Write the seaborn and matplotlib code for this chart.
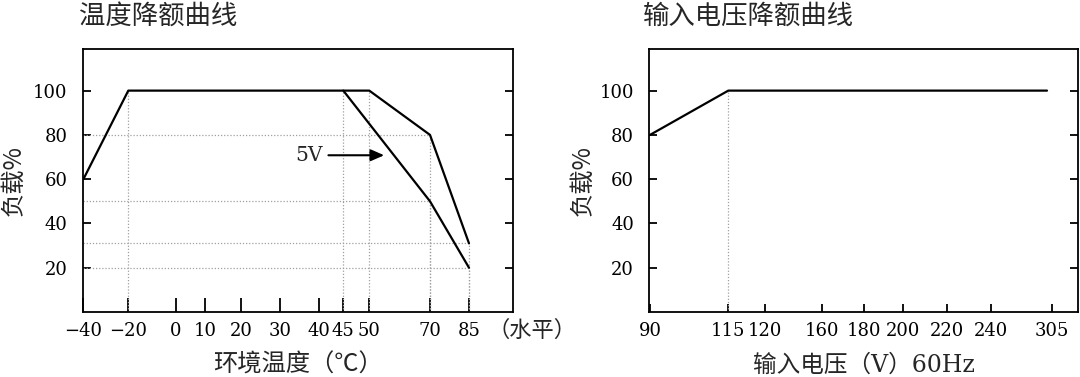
import numpy as np
import pandas as pd
import matplotlib
matplotlib.use("Agg")
import matplotlib.pyplot as plt
import seaborn as sns

# temperature derating
temp_main_x = [-40, -20, 50, 70, 85]
temp_main_y = [60, 100, 100, 80, 31]
temp_5v_x = [45, 70, 85]
temp_5v_y = [100, 50, 20]
temp_ticks = [-40, -20, 0, 10, 20, 30, 40, 45, 50, 70, 85]

# input voltage derating
volt_x = [90, 115, 300]
volt_y = [80, 100, 100]
volt_ticks = [90, 115, 120, 160, 180, 200, 220, 240, 305]

load_ticks = [20, 40, 60, 80, 100]

# arrow label for the 5V curve
label_5v = "5V"
arrow_y = 70.8
arrow_from, arrow_to = 41.9, 54.9
label_5v_x = 37.4

# tick spacing on the drawing is not linear, so map ticks to their place
temp_tick_pos = [83.4, 128.3, 176, 205, 241, 280, 319.3, 343.3, 369.3, 430, 469]
volt_tick_pos = [650.0, 728.3, 765, 821.7, 864, 903.3, 947.3, 990.7, 1051.7]


def piecewise_scale(vals, pos):
    vals = np.asarray(vals, float)
    pos = np.asarray(pos, float)
    lo = (pos[1] - pos[0]) / (vals[1] - vals[0])
    hi = (pos[-1] - pos[-2]) / (vals[-1] - vals[-2])
    v = np.concatenate([[vals[0] - 1000], vals, [vals[-1] + 1000]])
    p = np.concatenate([[pos[0] - 1000 * lo], pos, [pos[-1] + 1000 * hi]])
    return (lambda x: np.interp(x, v, p)), (lambda y: np.interp(y, p, v))


sns.set_style("white")
plt.rcParams["font.family"] = ["DejaVu Serif", "Noto Sans CJK SC", "DejaVu Sans"]
cjk = ["Noto Sans CJK SC", "DejaVu Serif"]

W, H = 1080, 377
fig = plt.figure(figsize=(W / 100, H / 100), dpi=100)
ax1 = fig.add_axes([82.6 / W, 65 / H, (513 - 82.6) / W, 263 / H])
ax2 = fig.add_axes([649.3 / W, 65 / H, (1078 - 649.3) / W, 263 / H])

grid_kw = dict(color="#a0a0a0", linestyle=(0, (1, 1.5)), linewidth=0.9, zorder=1)
line_kw = dict(color="black", linewidth=1.6, zorder=3)


def guides(ax, xs, ys, xleft):
    for x, y in zip(xs, ys):
        ax.plot([x, x], [0, y], **grid_kw)
        if y < 100:
            ax.plot([xleft, x], [y, y], **grid_kw)


def style_axes(ax, ticks, tick_pos, xlim_px, xtick_len):
    fwd, inv = piecewise_scale(ticks, tick_pos)
    ax.set_xscale("function", functions=(fwd, inv))
    ax.set_xlim(inv(xlim_px[0]), inv(xlim_px[1]))
    ax.set_ylim(0, 118.8)
    ax.set_xticks(ticks, labels=[str(t).replace("-", "\u2212") for t in ticks])
    ax.set_yticks(load_ticks, labels=[str(t) for t in load_ticks])
    ax.minorticks_off()
    ax.tick_params(axis="x", direction="in", length=xtick_len, width=1.3,
                   labelsize=13, pad=7, colors="black", top=False, bottom=True)
    ax.tick_params(axis="y", direction="in", length=6, width=1.3,
                   labelsize=13, pad=11, colors="black", left=True, right=True)
    for s in ax.spines.values():
        s.set_visible(True)
        s.set_color("black")
        s.set_linewidth(1.3)
    ax.set_ylabel("负载%", fontsize=17.5, family=cjk, va="center")
    ax.grid(False)


# left chart
style_axes(ax1, temp_ticks, temp_tick_pos, (82.6, 513), 10)
df_main = pd.DataFrame({"t": temp_main_x, "load": temp_main_y})
df_5v = pd.DataFrame({"t": temp_5v_x, "load": temp_5v_y})
sns.lineplot(data=df_main, x="t", y="load", ax=ax1, sort=False, **line_kw)
sns.lineplot(data=df_5v, x="t", y="load", ax=ax1, sort=False, **line_kw)
xl = ax1.get_xlim()[0]
guides(ax1, temp_main_x[1:], temp_main_y[1:], xl)
guides(ax1, temp_5v_x, temp_5v_y, xl)
ax1.annotate("", xy=(arrow_to, arrow_y), xytext=(arrow_from, arrow_y),
             arrowprops=dict(arrowstyle="-|>,head_length=0.8,head_width=0.35",
                             color="black", lw=1.5, shrinkA=0, shrinkB=0), zorder=4)
ax1.text(label_5v_x, arrow_y, label_5v, fontsize=14.5, ha="center", va="center")
ax1.set_xlabel("环境温度（℃）", fontsize=17.5, family=cjk, va="center")
ax1.xaxis.set_label_coords(0.5, -53 / 263)
ax1.yaxis.set_label_coords((13.7 - 82.6) / 430.4, 0.5)
ax1.text((532 - 82.6) / 430.4, -18 / 263, "（水平）", transform=ax1.transAxes,
         fontsize=16, family=cjk, ha="center", va="center")

# right chart
style_axes(ax2, volt_ticks, volt_tick_pos, (649.3, 1078), 6)
df_v = pd.DataFrame({"v": volt_x, "load": volt_y})
sns.lineplot(data=df_v, x="v", y="load", ax=ax2, sort=False, **line_kw)
guides(ax2, volt_x[1:2], volt_y[1:2], ax2.get_xlim()[0])
ax2.set_xlabel("输入电压（V）60Hz", fontsize=17, va="center")
ax2.xaxis.set_label_coords(0.5, -53 / 263)
ax2.yaxis.set_label_coords((583 - 649.3) / 428.7, 0.5)

fig.text(78.5 / W, 1 - 16 / H, "温度降额曲线", fontsize=19, family=cjk, va="center", ha="left")
fig.text(643.3 / W, 1 - 16 / H, "输入电压降额曲线", fontsize=19, family=cjk, va="center", ha="left")

fig.savefig("out.png", dpi=100, facecolor="white")
